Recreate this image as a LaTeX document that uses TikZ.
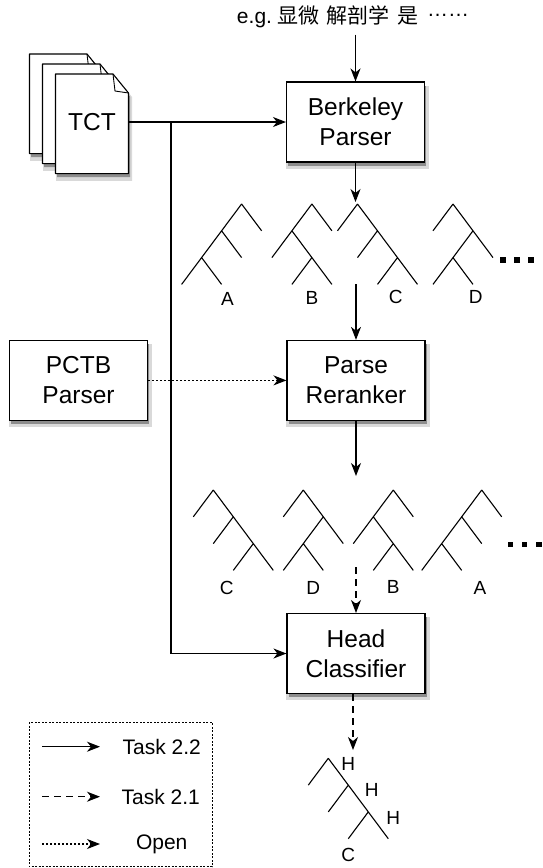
\documentclass[tikz,border=0pt]{standalone}
\usepackage{fontspec}
\setmainfont{Liberation Sans}
\newfontfamily\cjk{Noto Sans CJK SC}
\usetikzlibrary{arrows.meta,shadows}
\tikzset{
  treeA/.pic={\draw (0,0)--(-60,80.4) (0,0)--(20,26.8) (-20,26.8)--(0,53.6) (-40,53.6)--(-20,80.4);},
  treeC/.pic={\draw (0,0)--(60,80.4) (0,0)--(-20,26.8) (20,26.8)--(0,53.6) (40,53.6)--(20,80.4);},
  treeB/.pic={\draw (0,0)--(20,26.8) (0,0)--(-40,53.6) (-20,26.8)--(20,80.4) (0,53.6)--(-20,80.4);},
  treeD/.pic={\draw (0,0)--(-20,26.8) (0,0)--(40,53.6) (20,26.8)--(-20,80.4) (0,53.6)--(20,80.4);},
  dots/.pic={\fill (-16.9,-2.9) rectangle ++(5.8,5.8); \fill (-2.9,-2.9) rectangle ++(5.8,5.8); \fill (11.4,-2.9) rectangle ++(5.8,5.8);},
}
\begin{document}
\begin{tikzpicture}[x=1pt,y=-1pt,
  line width=1.1pt,
  tip/.style={-{Stealth[length=13pt,width=10pt,inset=4pt]}},
  shad/.style={drop shadow={shadow xshift=2pt,shadow yshift=-5pt,opacity=0.15,fill=black,shadow scale=1.04},
               drop shadow={shadow xshift=1.5pt,shadow yshift=-3.5pt,opacity=0.35,fill=black}},
  proc/.style={draw, fill=white, shad, minimum width=138pt, minimum height=80pt, align=center,
               font=\fontsize{24.5}{30}\selectfont, inner sep=0pt},
  page/.style={draw, fill=white, shad, line join=round},
  lbl/.style={font=\fontsize{19}{22}\selectfont, inner sep=0pt},
  legtext/.style={font=\fontsize{21}{24}\selectfont, inner sep=0pt},
  dsh/.style={dash pattern=on 7pt off 5pt},
  dtt/.style={dash pattern=on 1.6pt off 2.4pt},
]
\useasboundingbox (0,0) rectangle (542,868);
\fill[white] (0,0) rectangle (542,868);

% top input text
\node[font=\fontsize{21}{24}\selectfont, inner sep=0pt] (topt) at (353,17)
  {e.g.\hspace{5pt}{\cjk 显微}\hspace{8pt}{\cjk 解剖学}\hspace{8pt}{\cjk 是}\hspace{8pt}\raisebox{7.5pt}{……}};

% TCT document stack
\foreach \dx/\dy in {-26/-20,-13/-10,0/0}{
  \begin{scope}[shift={(\dx,\dy)}]
    \draw[page] (55.5,74) -- (113,74) -- (128.5,93) -- (128.5,173.6) -- (55.5,173.6) -- cycle;
    \draw[line width=0.9pt, line join=round] (113,74) -- (115,91) -- (128.5,93);
  \end{scope}
}
\node[font=\fontsize{24.5}{30}\selectfont, inner sep=0pt] (tct) at (92,122) {TCT};
\coordinate (tctr) at (128.5,122);
\coordinate (j) at (171,122);

% process boxes
\node[proc] (bp) at (355.5,122) {Berkeley\\Parser};
\node[proc] (pr) at (356,380.4) {Parse\\Reranker};
\node[proc] (pctb) at (78.5,380.4) {PCTB\\Parser};
\node[proc] (hc) at (356,653.5) {Head\\Classifier};

% first row of trees
\pic at (241.6,204) {treeA};
\pic at (311.9,204) {treeB};
\pic at (357.5,204) {treeC};
\pic at (453,204) {treeD};
\pic at (517,259.8) {dots};
\node[lbl] (la1) at (227.4,299) {A};
\node[lbl] (lb1) at (312,298) {B};
\node[lbl] (lc1) at (395.7,297) {C};
\node[lbl] (ld1) at (475.7,297) {D};

% second row of trees
\pic at (213.3,490) {treeC};
\pic at (303.3,490) {treeD};
\pic at (393.3,490) {treeB};
\pic at (481.7,490) {treeA};
\pic at (524.5,544.5) {dots};
\node[lbl] (lc2) at (226.7,588) {C};
\node[lbl] (ld2) at (313.3,588) {D};
\node[lbl] (lb2) at (393.3,587) {B};
\node[lbl] (la2) at (480,588) {A};

% result tree
\pic at (328.3,758.3) {treeC};
\node[lbl] (h1) at (348.3,764) {H};
\node[lbl] (h2) at (371.7,790) {H};
\node[lbl] (h3) at (393.3,818) {H};
\node[lbl] (lc3) at (348.3,855) {C};

% connector coordinates
\coordinate (t1) at (355.5,202);
\coordinate (t1b) at (356,284);
\coordinate (t2) at (356,476);
\coordinate (t2b) at (356,567);
\coordinate (t3) at (353,750);

% connectors
\draw[tip] (topt.south -| bp) ++(0,6) -- (bp.north);
\draw[tip] (bp.south) -- (t1);
\draw[tip] (t1b) -- (pr.north);
\draw[tip] (pr.south) -- (t2);
\draw[tip,dsh] (t2b) -- (hc.north);
\draw[tip,dsh] (hc.south -| t3) -- (t3);
\draw[tip] (tctr) -- (bp.west);
\draw[tip] (j) |- (hc.west);
\draw[tip,dtt] (pctb.east) -- (pr.west);

% legend
\draw[line width=0.8pt, dash pattern=on 2pt off 1.5pt] (29,722) rectangle (212,866.5);
\coordinate (l1a) at (42,746.7); \coordinate (l1b) at (100,746.7);
\coordinate (l2a) at (42,796.7); \coordinate (l2b) at (100,796.7);
\coordinate (l3a) at (42,844);   \coordinate (l3b) at (100,844);
\draw[tip] (l1a) -- (l1b);
\draw[tip,dsh] (l2a) -- (l2b);
\draw[tip,dtt] (l3a) -- (l3b);
\node[legtext] (lt1) at (161.7,746.7) {Task 2.2};
\node[legtext] (lt2) at (160.8,796.7) {Task 2.1};
\node[legtext] (lt3) at (161.7,844) {Open};
\end{tikzpicture}
\end{document}
